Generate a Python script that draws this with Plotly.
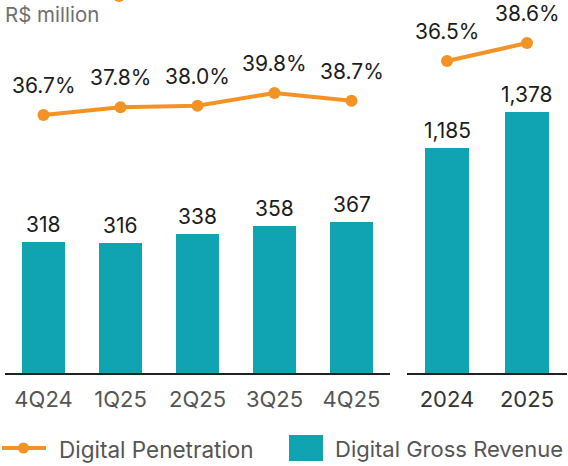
import plotly.graph_objects as go

# ---------------- data ----------------
quarters = ["4Q24", "1Q25", "2Q25", "3Q25", "4Q25"]
q_revenue = [318, 316, 338, 358, 367]
q_penetration = [36.7, 37.8, 38.0, 39.8, 38.7]

years = ["2024", "2025"]
y_revenue = [1185, 1378]
y_penetration = [36.5, 38.6]

unit_label = "R$ million"
legend_line = "Digital Penetration"
legend_bar = "Digital Gross Revenue"

# ---------------- style ----------------
W, H = 568, 466
TEAL = "#10A4B2"
ORANGE = "#F39325"
FONT = "Inter"
LABEL_COLOR = "#1c1c1c"


def px(x):
    return x / W


def py(y):
    return 1 - y / H


base = py(373)

fig = go.Figure()

fig.add_bar(x=quarters, y=q_revenue, xaxis="x", yaxis="y", marker_color=TEAL,
            marker_line_width=0, width=0.56, showlegend=False, hoverinfo="skip")
fig.add_scatter(x=quarters, y=q_penetration, xaxis="x", yaxis="y2", mode="lines+markers",
                line=dict(color=ORANGE, width=4), marker=dict(size=12, color=ORANGE),
                showlegend=False, hoverinfo="skip")
fig.add_bar(x=years, y=y_revenue, xaxis="x2", yaxis="y3", marker_color=TEAL,
            marker_line_width=0, width=0.54, showlegend=False, hoverinfo="skip")
fig.add_scatter(x=years, y=y_penetration, xaxis="x2", yaxis="y4", mode="lines+markers",
                line=dict(color=ORANGE, width=4), marker=dict(size=12, color=ORANGE),
                showlegend=False, hoverinfo="skip")

annotations = []
for cats, vals, xr, yr in [(quarters, q_revenue, "x", "y"), (years, y_revenue, "x2", "y3")]:
    for i, v in enumerate(vals):
        annotations.append(dict(x=i, y=v, xref=xr, yref=yr, text=f"{v:,}", showarrow=False,
                                yanchor="bottom", yshift=3,
                                font=dict(family=FONT, size=21, color=LABEL_COLOR)))
for cats, vals, xr, yr in [(quarters, q_penetration, "x", "y2"), (years, y_penetration, "x2", "y4")]:
    for i, v in enumerate(vals):
        annotations.append(dict(x=i, y=v, xref=xr, yref=yr, text=f"{v:.1f}%", showarrow=False,
                                yanchor="bottom", yshift=15,
                                font=dict(family=FONT, size=21, color=LABEL_COLOR)))

annotations.append(dict(x=px(3), y=py(15), xref="paper", yref="paper", text=unit_label,
                        showarrow=False, xanchor="left", yanchor="middle",
                        font=dict(family=FONT, size=20.5, color="#707070")))
annotations.append(dict(x=px(57), y=py(449), xref="paper", yref="paper", text=legend_line,
                        showarrow=False, xanchor="left", yanchor="middle",
                        font=dict(family=FONT, size=22.5, color="#555555")))
annotations.append(dict(x=px(333), y=py(449), xref="paper", yref="paper", text=legend_bar,
                        showarrow=False, xanchor="left", yanchor="middle",
                        font=dict(family=FONT, size=22, color="#555555")))

shapes = [
    dict(type="line", xref="paper", yref="paper", x0=px(2), x1=px(46), y0=py(448), y1=py(448),
         line=dict(color=ORANGE, width=4)),
    dict(type="circle", xref="paper", yref="paper", x0=px(18), x1=px(29), y0=py(453.5), y1=py(442.5),
         fillcolor=ORANGE, line=dict(width=0)),
    dict(type="rect", xref="paper", yref="paper", x0=px(289), x1=px(323), y0=py(461), y1=py(435),
         fillcolor=TEAL, line=dict(width=0)),
    dict(type="circle", xref="paper", yref="paper", x0=px(113), x1=px(125), y0=py(2), y1=py(-10),
         fillcolor=ORANGE, line=dict(width=0)),
]

axis_common = dict(type="category", showline=True, linecolor="#222222", linewidth=1.5,
                   showgrid=False, zeroline=False, ticks="", ticklabelstandoff=6,
                   fixedrange=True, automargin=False)

fig.update_layout(
    width=W, height=H,
    margin=dict(l=0, r=0, t=0, b=0, autoexpand=False),
    paper_bgcolor="white", plot_bgcolor="white",
    font=dict(family=FONT),
    showlegend=False,
    bargap=0,
    hovermode=False,
    xaxis=dict(domain=[px(5), px(390)], anchor="y", range=[-0.5, len(quarters) - 0.5],
               tickfont=dict(family=FONT, size=22, color="#555555"), **axis_common),
    yaxis=dict(domain=[base, 1], range=[0, 373 / 0.4117], visible=False, anchor="x"),
    yaxis2=dict(overlaying="y", range=[36.7 - 258 / 7.1, 36.7 + 115 / 7.1], visible=False, anchor="x"),
    xaxis2=dict(domain=[px(407), px(567)], anchor="y3", range=[-0.5, len(years) - 0.5],
                tickfont=dict(family=FONT, size=22, color="#333333"), **axis_common),
    yaxis3=dict(domain=[base, 1], range=[0, 373 / 0.1896], visible=False, anchor="x2"),
    yaxis4=dict(overlaying="y3", range=[36.5 - 312 / 8.57, 36.5 + 61 / 8.57], visible=False, anchor="x2"),
    annotations=annotations,
    shapes=shapes,
)

fig.write_html("out.html", config={"displayModeBar": False, "staticPlot": True},
               post_script="document.body.style.margin='0';document.body.style.padding='0';")
